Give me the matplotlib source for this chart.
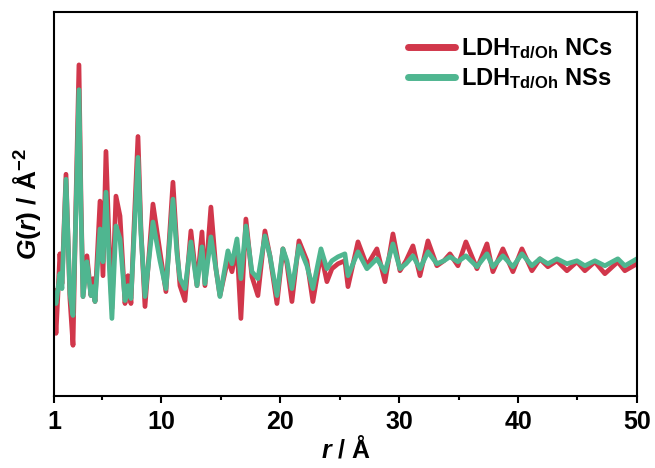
import matplotlib
matplotlib.use("Agg")
import matplotlib.pyplot as plt
from matplotlib.ticker import MultipleLocator

plt.rcParams['font.family'] = ['Liberation Sans', 'DejaVu Sans']
plt.rcParams['font.weight'] = 'bold'
plt.rcParams['mathtext.fontset'] = 'custom'
plt.rcParams['mathtext.rm'] = 'Liberation Sans:bold'
plt.rcParams['mathtext.it'] = 'Liberation Sans:bold:italic'
plt.rcParams['mathtext.bf'] = 'Liberation Sans:bold'

# values (arbitrary G units)
r = [1.00, 1.17, 1.50, 1.67, 2.01, 2.34, 2.60, 2.85, 3.10, 3.27,
     3.44, 3.77, 4.11, 4.28, 4.45, 4.87, 5.12, 5.37, 5.62, 5.87,
     6.21, 6.55, 6.97, 7.22, 7.47, 7.72, 8.06, 8.31, 8.65, 9.32,
     9.91, 10.41, 11.00, 11.34, 11.59, 12.01, 12.51, 13.02, 13.44, 13.69,
     14.19, 14.61, 14.95, 15.62, 15.96, 16.38, 16.71, 17.13, 17.64, 18.14,
     18.73, 19.15, 19.74, 20.24, 20.58, 21.00, 21.59, 22.26, 22.76, 23.44,
     23.94, 24.36, 24.87, 25.45, 25.71, 26.55, 27.30, 28.14, 28.82, 29.49,
     30.08, 30.59, 31.17, 31.76, 32.43, 33.18, 33.77, 34.28, 34.95, 35.62,
     36.55, 37.39, 37.89, 38.73, 39.57, 40.33, 41.17, 41.84, 42.51, 43.27,
     44.11, 44.95, 45.62, 46.46, 47.30, 48.39, 48.98, 50.00]

g_ncs = [-2.2, -6.5, 1.5, -1.5, 9.5, -3.0, -7.7, 7.0, 20.5, 7.0,
         -2.8, 1.3, -2.7, -1.0, -3.3, 6.8, -0.7, 11.8, 3.0, -4.0,
         7.3, 5.3, -3.5, -0.7, -3.5, 4.0, 13.3, 4.0, -3.8, 6.5,
         1.7, -2.3, 8.7, 2.0, -1.7, -3.2, 3.8, -1.7, 3.7, -1.7,
         6.2, 0.0, -2.7, 1.0, -0.3, 2.3, -5.0, 5.0, -0.8, -2.7,
         3.8, 1.3, -3.5, 2.0, 0.5, -3.3, 2.8, 0.8, -3.3, 1.5,
         -1.3, 0.0, 0.5, 0.8, -1.8, 2.7, 0.3, 2.0, -1.3, 3.5,
         -0.2, 0.8, 2.3, -0.7, 2.8, 0.3, 0.8, 1.5, 0.3, 2.7,
         0.0, 2.5, -0.3, 2.0, -0.3, 2.0, -0.2, 1.0, 0.2, 0.8,
         -0.2, 0.7, -0.2, 0.7, -0.5, 0.7, -0.2, 0.5]

g_nss = [-2.5, -3.5, -0.5, -2.0, 9.0, -2.5, -4.7, 6.0, 18.0, 6.0,
         -2.8, 0.7, -2.7, -1.8, -3.3, 4.0, 0.7, 7.7, 1.0, -5.0,
         4.3, 3.0, -3.2, -1.7, -3.0, 3.0, 11.2, 3.5, -2.8, 4.7,
         0.8, -2.0, 7.0, 1.5, -1.0, -2.0, 2.7, -1.7, 2.2, -1.5,
         3.2, 0.0, -2.8, 1.8, 0.5, 3.0, -1.0, 4.3, -0.3, -1.0,
         3.3, 1.3, -2.7, 2.0, 0.8, -2.0, 2.3, 0.3, -2.0, 2.0,
         0.0, 0.8, 1.2, 1.5, -0.7, 1.7, 0.0, 1.0, -0.3, 2.5,
         0.0, 0.5, 1.3, 0.0, 1.7, 0.5, 0.8, 1.2, 0.7, 1.3,
         0.2, 1.5, 0.2, 1.3, 0.2, 1.5, 0.3, 1.0, 0.5, 1.0,
         0.5, 0.8, 0.3, 0.8, 0.3, 1.0, 0.3, 1.0]

xticks = [1, 10, 20, 30, 40, 50]

fig = plt.figure(figsize=(6.55, 4.68), dpi=100)
ax = fig.add_axes([0.0824, 0.1538, 0.8901, 0.8202])

ax.plot(r, g_ncs, color='#D1374B', lw=3.4, solid_joinstyle='round',
        label=r'LDH$_{\mathrm{Td/Oh}}$ NCs')
ax.plot(r, g_nss, color='#4FB690', lw=3.4, solid_joinstyle='round',
        label=r'LDH$_{\mathrm{Td/Oh}}$ NSs')

ax.set_xlim(1, 50)
ax.set_ylim(-12.8, 25.8)
ax.set_xticks(xticks)
ax.xaxis.set_minor_locator(MultipleLocator(5))
ax.set_yticks([])
ax.tick_params(axis='x', which='major', direction='out', length=5, width=1.5,
               labelsize=18, pad=5)
ax.tick_params(axis='x', which='minor', direction='out', length=3, width=1.5)
for lab in ax.get_xticklabels():
    lab.set_fontweight('bold')
for s in ax.spines.values():
    s.set_linewidth(1.5)

ax.set_xlabel(r'$\mathit{r}$ / Å', fontsize=18, fontweight='bold', labelpad=1)
ax.set_ylabel(r'$\mathit{G}$($\mathit{r}$) / Å$^{-2}$', fontsize=19,
              fontweight='bold', labelpad=8)

leg = ax.legend(loc='upper right', frameon=False, fontsize=17, handlelength=2.0,
                handletextpad=0.25, labelspacing=0.25, borderaxespad=0.6)
for line in leg.get_lines():
    line.set_linewidth(5)
    line.set_solid_capstyle('round')

fig.savefig('out.png', dpi=100)
